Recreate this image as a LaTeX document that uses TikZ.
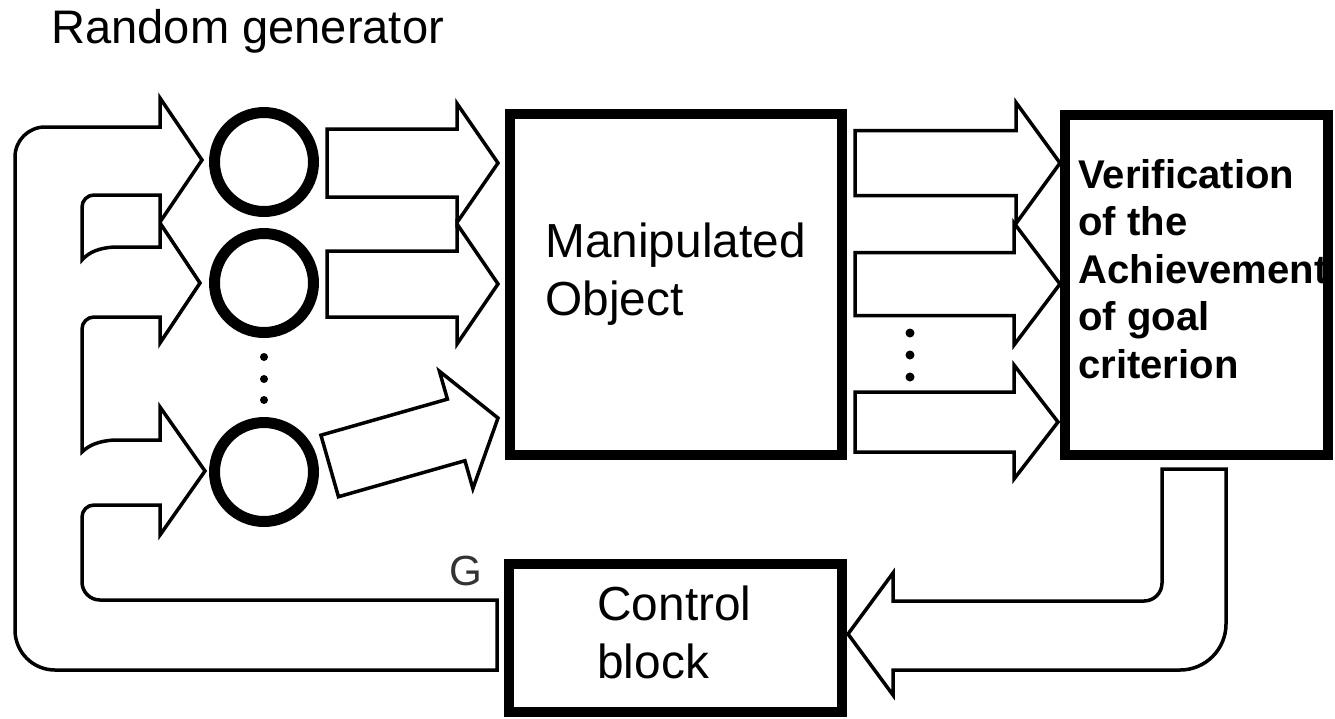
\documentclass[tikz,border=0pt]{standalone}
\usepackage{fontspec}
\setmainfont{Liberation Sans}
\usetikzlibrary{calc}
\tikzset{
  px/.style={x=0.02cm,y=-0.02cm},
  outline/.style={draw=black, line width=0.07cm, line join=miter},
  heavybox/.style={draw=black, line width=0.2cm, rectangle, inner sep=0pt},
  ring/.style={draw=black, line width=0.22cm, circle, minimum size=1.98cm, inner sep=0pt},
  lbl/.style={inner sep=0pt, anchor=base west},
  bigtext/.style={lbl, font=\fontsize{27.2}{32}\selectfont},
  goaltext/.style={lbl, font=\fontsize{22.8}{27}\selectfont\bfseries},
  dot/.style={fill=black},
}
% block arrow: tip coordinate, direction, total length, shaft half width,
% head half width, head length (lengths in picture units)
\newcommand\fatarrow[6]{%
  \begin{scope}[shift={(#1)}, rotate=#2]
    \draw[outline] (0,0) -- (-#6,-#5) -- (-#6,-#4) -- (-#3,-#4)
      -- (-#3,#4) -- (-#6,#4) -- (-#6,#5) -- cycle;
  \end{scope}}
\begin{document}
\begin{tikzpicture}[px]
\useasboundingbox (0,0) rectangle (1335,718);

% random generators
\node[ring] (c1) at (264,162) {};
\node[ring] (c2) at (264,283) {};
\node[ring] (c3) at (264,472) {};
\foreach \y in {357,379,400} \fill[dot] (264,\y) circle[radius=0.08cm];

% blocks
\node[heavybox, minimum width=6.64cm, minimum height=6.82cm] (obj) at (676,284.5) {};
\node[heavybox, minimum width=5.26cm, minimum height=6.8cm] (goal) at (1196.5,285) {};
\node[heavybox, minimum width=6.68cm, minimum height=2.96cm] (ctrl) at (675.5,638) {};

% labels
\node[lbl, font=\fontsize{26.8}{30}\selectfont] (title) at (51,43) {Random generator};
\node[bigtext] (objA) at (545,257) {Manipulated};
\node[bigtext] (objB) at (545,315) {Object};
\node[bigtext] (ctrlA) at (597,620) {Control};
\node[bigtext] (ctrlB) at (597,678) {block};
\node[goaltext] (g1) at (1078,188) {Verification};
\node[goaltext] (g2) at (1078,235.5) {of the};
\node[goaltext] (g3) at (1078,283) {Achievement};
\node[goaltext] (g4) at (1078,330.5) {of goal};
\node[goaltext] (g5) at (1078,378) {criterion};
\node[lbl, font=\fontsize{24}{28}\selectfont, text=black!80] (gsig) at (449,585) {G};

% generator outputs into the manipulated object
\coordinate (t1) at (498,163);
\coordinate (t2) at (498,284);
\coordinate (t3) at (498,418);
\fatarrow{t1}{0}{171}{34}{59.5}{41}
\fatarrow{t2}{0}{171}{33}{60}{41}
\fatarrow{t3}{15.9}{175}{32}{61}{43.5}

% object outputs into the verification block
\coordinate (u1) at (1060,163);
\coordinate (u2) at (1060,284);
\coordinate (u3) at (1058,422);
\fatarrow{u1}{0}{205}{32.5}{60.5}{44}
\fatarrow{u2}{0}{205}{31.5}{61}{46}
\fatarrow{u3}{0}{203}{30}{57}{44}
\foreach \y in {333,355,377} \fill[dot] (910,\y) circle[radius=0.09cm];

% verification result back to the control block
\draw[outline] (848,634) -- (893,573) -- (893,601) -- (1144,601)
  arc[start angle=90, end angle=0, radius=18] -- (1162,469) -- (1226,469)
  -- (1226,624) arc[start angle=0, end angle=90, radius=46]
  -- (893,670) -- (893,695) -- cycle;

% control signal G fed back to every generator
\draw[outline] (497,600) -- (100,600)
  arc[start angle=90, end angle=180, radius=18] -- (82,517)
  arc[start angle=180, end angle=270, radius=12] -- (160,505)
  -- (160,535) -- (205,471) -- (160,407) -- (160,440) -- (114,440)
  .. controls (99,441) and (89,445) .. (82,452) -- (82,329)
  arc[start angle=180, end angle=270, radius=12] -- (160,317)
  -- (160,343) -- (200,283) -- (160,223) -- (160,247) -- (114,247)
  .. controls (99,248) and (89,252) .. (82,260) -- (82,207)
  arc[start angle=180, end angle=270, radius=12] -- (160,195)
  -- (160,222) -- (202,160) -- (160,98) -- (160,127) -- (45,127)
  arc[start angle=270, end angle=180, radius=30] -- (15,630)
  arc[start angle=180, end angle=90, radius=40] -- (497,670) -- cycle;
\end{tikzpicture}
\end{document}
